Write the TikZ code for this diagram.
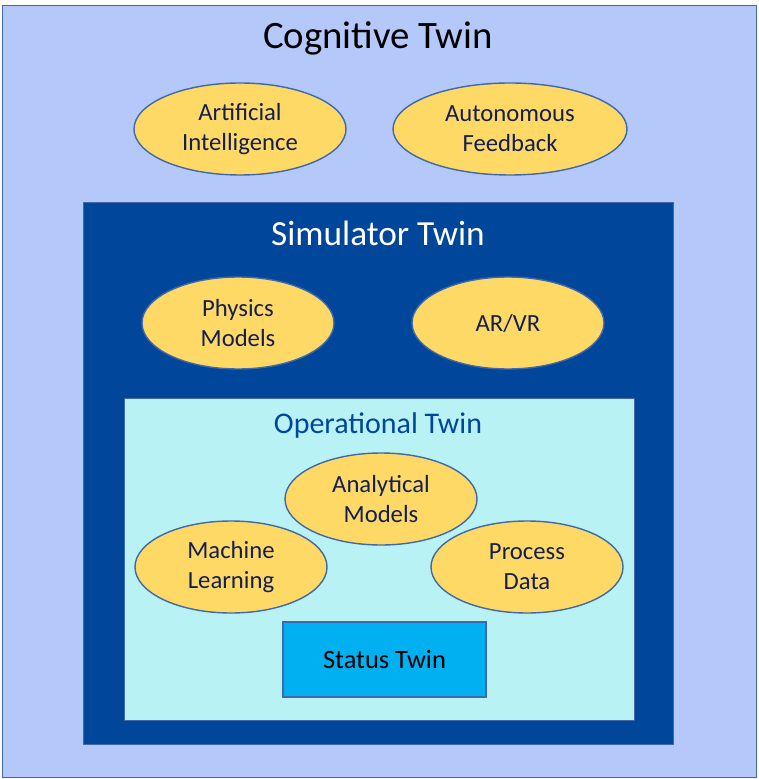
\documentclass[tikz,border=0pt]{standalone}
\usepackage{fontspec}
\setmainfont{Carlito}
\usetikzlibrary{shapes.geometric,positioning}
\definecolor{cogfill}{RGB}{180,200,250}
\definecolor{simfill}{RGB}{0,70,155}
\definecolor{opfill}{RGB}{185,242,245}
\definecolor{statfill}{RGB}{0,176,240}
\definecolor{edgeblue}{RGB}{65,105,170}
\definecolor{oval}{RGB}{255,217,102}
\definecolor{inktext}{RGB}{20,30,80}
\tikzset
{
    twinbox/.style = {draw=edgeblue, thick, anchor=north west, inner sep=0pt},
    feature/.style = {ellipse, draw=edgeblue, thick, fill=oval, align=center, text=inktext, font=\fontsize{14}{17}\selectfont, minimum width=5.45cm, minimum height=2.65cm},
    twintitle/.style = {font=\fontsize{20}{24}\selectfont}
}

\begin{document}
\begin{tikzpicture}[x=0.567pt, y=-0.567pt]
\useasboundingbox (0,0) rectangle (758,779);
\node (cog)  [twinbox, fill=cogfill, minimum width=754*0.567pt, minimum height=772*0.567pt] at (2,5) {};
\node (sim)  [twinbox, fill=simfill, minimum width=590*0.567pt, minimum height=542*0.567pt] at (83,202) {};
\node (op)   [twinbox, fill=opfill, minimum width=510*0.567pt, minimum height=322*0.567pt] at (124,398) {};
\node (stat) [draw=edgeblue, thick, fill=statfill, minimum width=203*0.567pt, minimum height=75*0.567pt, font=\fontsize{15}{18}\selectfont] at (384.5,659.5) {Status Twin};

%% titles
\node (cogt) [twintitle, font=\fontsize{22}{26}\selectfont] at (378,38) {Cognitive Twin};
\node (simt) [twintitle, text=white] at (378,233) {Simulator Twin};
\node (opt)  [twintitle, text=simfill, font=\fontsize{17}{20}\selectfont] at (378,426) {Operational Twin};

%% features
\node (ai)   [feature, minimum width=212*0.567pt, minimum height=92*0.567pt] at (240,129) {Artificial\\Intelligence};
\node (auto) [feature, minimum width=234*0.567pt, minimum height=92*0.567pt] at (510,129) {Autonomous\\Feedback};
\node (phys) [feature, minimum width=192*0.567pt, minimum height=92*0.567pt] at (238,323) {Physics\\Models};
\node (arvr) [feature, minimum width=192*0.567pt, minimum height=92*0.567pt] at (508,323) {AR/VR};
\node (ana)  [feature, minimum width=192*0.567pt, minimum height=92*0.567pt] at (381,499) {Analytical\\Models};
\node (ml)   [feature, minimum width=192*0.567pt, minimum height=92*0.567pt] at (231,567) {Machine\\Learning};
\node (proc) [feature, minimum width=192*0.567pt, minimum height=92*0.567pt] at (527,567) {Process\\Data};
\end{tikzpicture}
\end{document}
